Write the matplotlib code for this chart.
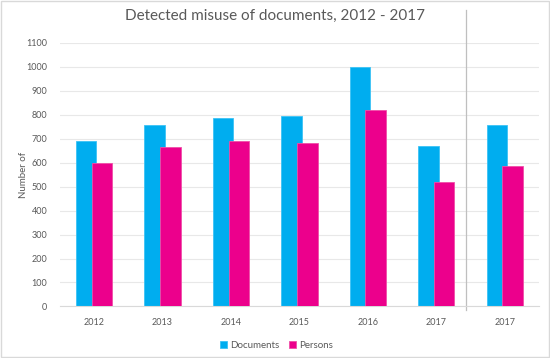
import matplotlib.pyplot as plt
import numpy as np
from matplotlib.patches import Rectangle
from matplotlib.lines import Line2D

# data
years = ["2012", "2013", "2014", "2015", "2016", "2017", "2017"]
documents = [692, 757, 787, 794, 998, 670, 757]
persons = [600, 665, 691, 680, 820, 520, 587]

plt.rcParams['font.family'] = ['Lato', 'DejaVu Sans']

fig = plt.figure(figsize=(5.5, 3.58), dpi=100)
ax = fig.add_axes([0.1087, 0.144, 0.8713, 0.7365])

x = np.arange(len(years))
ax.bar(x - 0.115, documents, width=0.30, color='#00adef', edgecolor='#3cc3f5',
       linewidth=0.6, label='Documents', zorder=2)
ax.bar(x + 0.115, persons, width=0.30, color='#ec008c', edgecolor='#f04ea8',
       linewidth=0.6, label='Persons', zorder=3)

ax.set_ylim(0, 1100)
ax.set_xlim(-0.5, len(years) - 0.5)
ax.set_yticks(range(0, 1101, 100))
ax.set_xticks(x)
ax.set_xticklabels(years)
ax.tick_params(axis='both', length=0, labelsize=6.5, labelcolor='#595959')
ax.tick_params(axis='y', pad=9)
ax.tick_params(axis='x', pad=8)
ax.yaxis.grid(True, color='#e8e8e8', linewidth=0.8, zorder=0)
ax.set_axisbelow(True)
for s in ['top', 'right', 'left']:
    ax.spines[s].set_visible(False)
ax.spines['bottom'].set_color('#d9d9d9')

ax.set_ylabel('Number of', fontsize=7, color='#595959', labelpad=-1)

# separator between the series and the last 2017 column
ax.add_line(Line2D([5.43, 5.43], [-0.015, 1.125], transform=ax.get_xaxis_transform(),
                   color='#bfbfbf', linewidth=0.9, clip_on=False))

fig.text(0.5, 0.955, 'Detected misuse of documents, 2012 - 2017', ha='center',
         va='center', fontsize=11, color='#595959')

ax.legend(loc='center', bbox_to_anchor=(0.452, -0.147), ncol=2, frameon=False,
          fontsize=7, handlelength=0.7, handleheight=0.7, handletextpad=0.3,
          columnspacing=1.0, labelcolor='#595959')

fig.patches.append(Rectangle((0.001, 0.002), 0.997, 0.995, transform=fig.transFigure,
                             fill=False, edgecolor='#d9d9d9', linewidth=1))

fig.savefig('out.png', dpi=100)
